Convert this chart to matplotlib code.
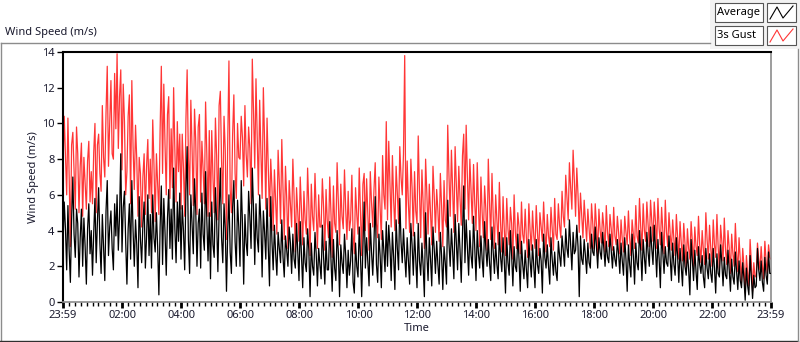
import numpy as np
import matplotlib
matplotlib.use('Agg')
import matplotlib.pyplot as plt
from matplotlib.patches import Rectangle
from matplotlib.lines import Line2D

# 2.5-minute samples, 23:59 -> 23:59 next day (one row per hour)
average = [
    3.2, 5.6, 4.1, 1.8, 5.4, 2.9, 1.1, 4.6, 7.0, 3.8, 2.5, 5.2, 4.4, 1.4, 3.6, 5.2, 2.0, 4.7, 3.1, 1.0, 4.1, 5.5, 2.7, 4.0,
    1.5, 3.9, 5.8, 2.2, 4.5, 6.4, 3.3, 1.6, 4.9, 3.0, 1.2, 5.1, 6.8, 2.6, 4.2, 5.1, 3.0, 1.8, 5.5, 3.7, 6.0, 2.9, 4.8, 8.3,
    2.8, 5.3, 6.2, 3.4, 1.0, 4.1, 5.5, 2.4, 6.8, 4.0, 2.0, 4.6, 3.2, 0.8, 5.9, 3.5, 2.2, 4.4, 5.6, 1.9, 3.7, 6.0, 2.6, 4.9,
    1.9, 6.0, 3.6, 2.8, 5.0, 3.1, 0.4, 4.2, 6.5, 2.1, 5.8, 3.9, 1.5, 4.7, 6.3, 3.0, 5.2, 2.4, 7.5, 4.1, 2.2, 5.6, 3.4, 6.1,
    2.4, 5.4, 4.0, 1.8, 6.2, 8.7, 3.5, 1.6, 6.0, 4.3, 2.7, 6.9, 5.1, 2.0, 4.4, 5.2, 1.9, 6.1, 3.8, 2.9, 7.3, 4.6, 2.3, 5.0,
    1.3, 5.6, 3.2, 2.5, 6.4, 4.5, 1.7, 5.0, 7.5, 3.6, 2.2, 5.5, 4.1, 0.6, 3.9, 6.0, 2.8, 1.6, 5.3, 6.8, 3.4, 2.0, 5.7, 4.2,
    2.0, 6.8, 4.4, 1.0, 4.9, 3.3, 2.6, 6.2, 4.8, 3.0, 7.5, 5.2, 2.1, 5.5, 3.6, 2.8, 6.0, 4.5, 1.4, 5.1, 3.9, 2.4, 5.8, 3.1,
    0.9, 5.9, 3.4, 1.8, 4.3, 2.7, 1.5, 3.9, 3.0, 2.2, 4.6, 2.5, 1.4, 3.7, 2.9, 2.0, 4.2, 3.3, 1.6, 3.8, 2.4, 1.9, 4.4, 2.8,
    1.2, 4.5, 2.6, 0.8, 3.6, 2.2, 1.7, 4.1, 2.9, 0.3, 3.3, 2.0, 1.5, 3.9, 2.7, 0.9, 3.0, 2.1, 1.3, 4.3, 2.5, 1.0, 3.4, 1.8,
    1.8, 4.5, 2.4, 0.6, 3.5, 1.9, 1.2, 4.0, 2.8, 0.3, 3.2, 2.2, 1.6, 3.8, 2.6, 0.8, 2.9, 1.5, 2.3, 4.1, 1.1, 0.5, 3.3, 2.0,
    1.4, 4.2, 2.6, 0.3, 3.1, 5.6, 1.9, 3.6, 2.3, 0.9, 4.4, 2.8, 1.5, 3.4, 5.9, 2.1, 1.1, 3.8, 2.6, 0.8, 4.0, 2.9, 1.7, 4.5,
    2.0, 4.3, 3.1, 1.2, 3.9, 2.5, 0.7, 4.6, 3.0, 1.8, 5.8, 3.4, 2.2, 4.1, 2.6, 1.4, 3.6, 2.3, 1.0, 4.4, 3.2, 1.5, 3.9, 2.4,
    0.8, 4.4, 2.3, 1.5, 3.3, 2.0, 0.3, 5.0, 2.7, 1.2, 3.6, 2.4, 0.9, 4.2, 3.0, 1.6, 3.4, 2.1, 1.0, 3.9, 2.6, 0.7, 3.1, 2.2,
    1.0, 5.7, 3.3, 2.0, 4.1, 2.8, 1.3, 4.9, 3.4, 1.8, 4.4, 2.9, 1.1, 3.8, 6.5, 2.2, 4.6, 3.1, 1.5, 4.0, 2.6, 1.9, 4.8, 3.0,
    1.2, 4.0, 2.7, 1.9, 3.7, 2.4, 1.4, 4.5, 3.0, 2.0, 3.5, 2.2, 1.2, 4.2, 2.8, 1.6, 3.3, 2.1, 1.3, 3.9, 2.5, 1.7, 3.6, 2.3,
    0.5, 3.6, 2.2, 1.5, 4.0, 2.6, 0.9, 3.1, 2.0, 1.7, 3.8, 2.4, 0.6, 3.4, 2.1, 1.3, 2.9, 1.8, 0.8, 3.5, 2.3, 1.4, 3.2, 2.0,
    0.8, 3.5, 2.1, 1.6, 3.0, 2.3, 0.5, 3.8, 2.5, 1.9, 3.2, 2.0, 1.0, 3.6, 2.4, 1.5, 2.8, 1.7, 1.2, 3.4, 2.6, 2.0, 3.7, 2.9,
    2.0, 4.1, 3.0, 2.5, 4.6, 3.2, 1.8, 3.9, 2.7, 2.9, 4.3, 3.1, 0.3, 3.7, 2.4, 2.1, 3.5, 2.6, 1.6, 3.3, 2.2, 1.9, 3.8, 2.8,
    2.6, 4.2, 3.1, 1.9, 3.6, 2.8, 2.4, 3.9, 3.0, 2.0, 3.4, 2.5, 2.2, 3.8, 2.9, 1.9, 3.1, 2.4, 2.0, 3.5, 2.7, 1.6, 3.3, 2.3,
    1.5, 3.6, 2.4, 0.6, 3.2, 2.1, 1.4, 3.8, 2.6, 1.0, 3.3, 2.2, 1.8, 4.0, 2.9, 1.2, 3.5, 2.5, 1.6, 3.9, 2.8, 2.0, 4.2, 3.0,
    2.1, 4.3, 3.0, 1.4, 3.5, 2.4, 0.8, 3.9, 2.7, 1.6, 3.1, 2.2, 2.0, 3.7, 2.5, 1.2, 3.3, 2.1, 1.5, 3.6, 2.6, 1.1, 3.0, 2.0,
    0.9, 3.2, 2.0, 1.5, 2.8, 1.8, 0.4, 3.5, 2.3, 1.2, 2.9, 1.7, 0.7, 3.1, 2.1, 1.6, 2.6, 1.4, 0.8, 3.0, 1.9, 1.3, 2.7, 1.6,
    1.1, 3.0, 1.9, 0.5, 2.7, 1.6, 1.4, 3.2, 2.2, 0.9, 2.5, 1.5, 1.3, 2.9, 1.8, 0.6, 2.4, 1.4, 1.0, 2.8, 1.7, 0.7, 2.3, 1.2,
    0.8, 2.2, 1.3, 0.1, 1.9, 0.9, 0.4, 2.6, 1.4, 0.2, 1.5, 0.8, 0.9, 3.0, 1.8, 1.2, 2.3, 1.1, 0.6, 2.5, 1.5, 1.0, 2.8, 1.6,
    1.6,
]

gust = [
    7.5, 10.4, 8.2, 6.0, 10.3, 7.1, 3.1, 8.8, 9.5, 7.4, 5.2, 9.8, 8.3, 5.0, 7.6, 8.9, 4.8, 8.1, 6.6, 5.2, 7.9, 9.0, 5.6, 7.3,
    5.5, 8.4, 10.0, 5.0, 8.8, 9.4, 7.2, 6.2, 11.0, 8.1, 7.0, 10.6, 13.2, 7.6, 9.9, 12.4, 8.3, 8.0, 12.8, 9.7, 13.9, 8.6, 11.5, 13.0,
    7.4, 12.2, 10.1, 6.0, 7.3, 10.4, 11.6, 5.5, 12.4, 8.7, 6.3, 9.9, 8.0, 4.8, 8.1, 7.2, 4.2, 7.0, 8.3, 4.9, 7.6, 9.1, 5.8, 8.0,
    5.0, 10.2, 7.7, 4.5, 8.3, 6.6, 4.9, 9.6, 13.2, 7.2, 12.2, 8.8, 6.0, 10.5, 11.5, 5.8, 9.7, 6.4, 12.0, 8.5, 5.6, 10.1, 7.3, 9.4,
    5.2, 9.4, 7.5, 4.8, 10.2, 13.0, 8.1, 6.0, 11.3, 8.6, 5.4, 10.8, 9.0, 4.9, 9.8, 10.5, 5.6, 9.0, 7.4, 5.5, 11.2, 8.3, 4.8, 9.6,
    4.8, 9.6, 7.0, 5.0, 10.3, 8.2, 4.6, 11.0, 11.8, 7.9, 5.5, 10.4, 8.5, 3.5, 8.9, 13.5, 6.3, 5.0, 9.4, 11.6, 7.2, 5.8, 10.0, 8.1,
    8.0, 10.4, 9.2, 6.5, 11.0, 8.3, 7.0, 9.8, 8.6, 5.5, 13.6, 10.7, 7.5, 12.5, 9.1, 6.0, 11.3, 8.4, 5.8, 12.0, 9.0, 5.2, 10.3, 7.6,
    4.8, 8.0, 6.4, 4.0, 7.4, 5.6, 3.8, 8.5, 6.7, 4.4, 9.1, 6.2, 3.5, 7.6, 5.8, 3.0, 6.8, 5.5, 4.2, 8.0, 5.9, 2.8, 6.4, 5.0,
    3.4, 7.0, 5.2, 3.2, 6.2, 4.6, 3.8, 7.5, 5.4, 2.6, 6.6, 4.8, 4.0, 7.2, 5.1, 3.0, 6.0, 4.2, 4.2, 6.9, 5.3, 2.9, 6.3, 4.5,
    3.6, 7.0, 5.0, 2.5, 6.5, 4.4, 3.9, 7.8, 5.6, 3.2, 6.6, 4.8, 4.1, 7.4, 5.2, 3.5, 6.2, 4.0, 4.6, 7.1, 3.8, 2.7, 6.4, 4.9,
    3.8, 7.5, 5.1, 2.6, 6.6, 7.2, 4.0, 6.9, 4.9, 2.9, 7.3, 5.6, 4.2, 6.3, 7.8, 4.4, 3.6, 7.0, 5.3, 3.5, 8.2, 6.0, 5.2, 10.1,
    4.6, 9.0, 6.5, 4.2, 8.2, 5.7, 4.0, 7.6, 6.1, 4.4, 8.7, 7.0, 6.0, 8.3, 13.8, 4.1, 7.9, 5.5, 3.9, 8.0, 6.4, 3.7, 7.3, 5.1,
    4.4, 9.3, 6.2, 3.6, 7.4, 5.5, 3.0, 8.0, 6.1, 3.8, 6.6, 5.0, 3.2, 7.6, 6.0, 3.9, 6.3, 5.1, 3.4, 7.2, 5.4, 3.1, 6.8, 4.6,
    4.2, 9.9, 7.1, 4.8, 8.5, 6.3, 3.9, 8.7, 6.6, 4.5, 7.6, 5.8, 4.3, 8.2, 9.4, 5.2, 9.9, 7.0, 4.6, 8.0, 6.2, 4.4, 7.7, 5.5,
    4.0, 7.8, 5.4, 3.1, 7.0, 5.0, 3.6, 6.5, 5.2, 2.9, 8.0, 5.6, 3.5, 7.2, 4.8, 3.0, 6.0, 4.6, 3.2, 6.7, 4.4, 2.8, 5.9, 4.1,
    2.6, 5.8, 4.1, 3.2, 5.3, 4.4, 2.4, 6.0, 3.9, 3.0, 5.0, 4.2, 2.7, 5.6, 3.8, 3.3, 5.2, 3.6, 2.5, 5.5, 4.0, 2.9, 5.1, 3.7,
    3.0, 5.4, 3.9, 2.6, 5.0, 4.2, 3.4, 5.6, 4.0, 2.8, 4.9, 3.7, 3.1, 5.3, 4.1, 2.9, 5.8, 3.8, 3.5, 5.5, 4.3, 3.6, 6.2, 4.8,
    4.2, 7.1, 5.9, 4.6, 7.8, 6.4, 5.2, 8.5, 6.8, 4.8, 7.5, 6.0, 3.9, 6.1, 4.9, 3.6, 5.7, 4.5, 3.4, 5.2, 4.1, 3.0, 5.5, 4.4,
    3.0, 5.5, 4.3, 2.6, 5.2, 4.0, 3.3, 5.0, 4.2, 2.8, 5.4, 3.9, 3.1, 4.9, 4.1, 2.9, 5.3, 3.7, 3.2, 4.8, 3.9, 2.7, 4.6, 3.5,
    2.8, 4.8, 3.9, 3.2, 5.1, 3.6, 2.6, 4.6, 3.8, 3.0, 5.4, 3.7, 3.3, 5.8, 4.2, 2.9, 5.5, 4.0, 3.4, 5.6, 4.4, 3.1, 5.7, 4.5,
    3.4, 5.6, 4.5, 3.0, 5.8, 4.1, 3.2, 5.3, 4.0, 2.7, 5.7, 3.9, 3.1, 5.0, 3.8, 2.9, 4.6, 3.5, 2.6, 4.9, 3.7, 2.4, 4.5, 3.3,
    2.3, 4.4, 3.3, 1.9, 4.1, 3.0, 2.4, 4.5, 3.4, 2.0, 4.2, 3.1, 2.6, 4.8, 3.2, 2.2, 4.0, 2.9, 2.1, 5.0, 3.5, 2.4, 4.3, 3.0,
    2.0, 4.6, 3.2, 2.5, 4.9, 3.1, 1.8, 4.3, 3.4, 2.3, 4.7, 2.9, 2.1, 4.0, 3.0, 1.6, 3.8, 2.7, 2.0, 4.4, 2.8, 1.7, 3.6, 2.4,
    1.1, 3.0, 2.0, 0.5, 2.6, 1.6, 0.9, 3.5, 2.2, 0.6, 2.2, 1.4, 1.5, 3.3, 2.4, 1.8, 3.1, 2.0, 1.3, 3.4, 2.3, 1.6, 3.2, 2.5,
    2.4,
]

tick_labels = ['23:59', '02:00', '04:00', '06:00', '08:00', '10:00', '12:00',
               '14:00', '16:00', '18:00', '20:00', '22:00', '23:59']
series_names = ['Average', '3s Gust']
series_colors = ['black', '#ff3636']

W, H = 800, 342
def fx(px):
    return px / W
def fy(py):
    return 1 - py / H

plt.rcParams['font.family'] = ['Noto Sans', 'DejaVu Sans']
fig = plt.figure(figsize=(8, 3.42), dpi=100)
text_c = '#1a1a2e'

# outer frame + legend background
fig.patches.append(Rectangle((fx(710), fy(49)), fx(800) - fx(710), fy(0) - fy(49),
                             transform=fig.transFigure, facecolor='#f2f2f2', edgecolor='none', zorder=0))
fig.lines.append(Line2D([fx(0.5), fx(710)], [fy(42.5), fy(42.5)], transform=fig.transFigure, color='#8c8c8c', lw=1))
fig.lines.append(Line2D([fx(0.7), fx(0.7)], [fy(42.5), fy(341)], transform=fig.transFigure, color='#8c8c8c', lw=1))
fig.lines.append(Line2D([fx(0), fx(798)], [fy(340.8), fy(340.8)], transform=fig.transFigure, color='#303030', lw=1))
fig.lines.append(Line2D([fx(797.5), fx(797.5)], [fy(49), fy(341)], transform=fig.transFigure, color='#8c8c8c', lw=1))

fig.text(fx(5), fy(32), 'Wind Speed (m/s)', fontsize=8, color=text_c, va='center', ha='left')

ax = fig.add_axes([fx(63), fy(302), fx(771) - fx(63), fy(52) - fy(302)])
t = np.arange(len(average)) * 2.5
ax.plot(t, gust, color=series_colors[1], lw=0.9, zorder=2)
ax.plot(t, average, color=series_colors[0], lw=0.9, zorder=3)

ax.set_xlim(0, 1440)
ax.set_ylim(0, 14)
ax.set_yticks(np.arange(0, 15, 2))
major = [0] + [h * 60 + 1 for h in range(2, 23, 2)] + [1440]
ax.set_xticks(major)
ax.set_xticklabels(tick_labels)
ax.set_xticks(np.arange(0, 1441, 12), minor=True)
ax.tick_params(axis='both', which='major', labelsize=8, colors='black', labelcolor=text_c, length=4, width=1)
ax.tick_params(axis='x', which='major', width=2, pad=2)
ax.tick_params(axis='x', which='minor', length=3, width=1, color='black')
ax.tick_params(axis='y', pad=2)
ax.set_ylabel('Wind Speed (m/s)', fontsize=8, color=text_c, labelpad=2)
ax.set_xlabel('Time', fontsize=8, color=text_c, labelpad=1)

ax.spines['top'].set_color('black')
ax.spines['top'].set_linewidth(1.5)
ax.spines['left'].set_color('black')
ax.spines['left'].set_linewidth(1.5)
ax.spines['right'].set_color('#8c8c8c')
ax.spines['bottom'].set_color('#8c8c8c')
ax.spines['right'].set_linewidth(1.2)
ax.spines['bottom'].set_linewidth(1.2)

# legend boxes drawn LabVIEW style
for i, (name, col) in enumerate(zip(series_names, series_colors)):
    top = 3 + i * 23
    fig.patches.append(Rectangle((fx(715), fy(top + 19)), fx(763) - fx(715), fy(top) - fy(top + 19),
                                 transform=fig.transFigure, facecolor='white', edgecolor='#555555', lw=0.8))
    fig.text(fx(717), fy(top + 9.5), name, fontsize=8, color='black', va='center', ha='left')
    fig.patches.append(Rectangle((fx(767), fy(top + 19)), fx(796) - fx(767), fy(top) - fy(top + 19),
                                 transform=fig.transFigure, facecolor='white', edgecolor='#555555', lw=0.8))
    xs = [fx(770), fx(777), fx(783), fx(793)]
    ys = [fy(top + 16), fy(top + 4), fy(top + 15), fy(top + 3)]
    fig.lines.append(Line2D(xs, ys, transform=fig.transFigure, color=col, lw=0.8))

fig.savefig('out.png', dpi=100)
